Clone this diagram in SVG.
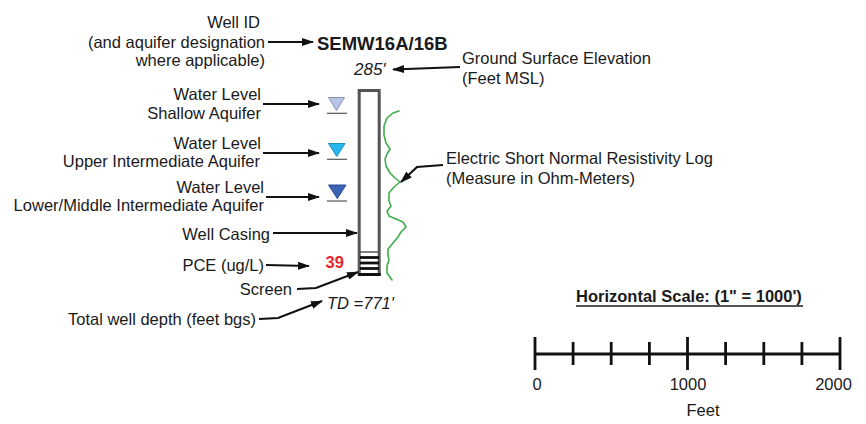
<svg xmlns="http://www.w3.org/2000/svg" width="866" height="424" viewBox="0 0 866 424">
<style>
text{font-family:"Liberation Sans",Arial,sans-serif;font-size:16.5px;fill:#1a1a1a}
.e{text-anchor:end}
.b{font-weight:bold}
.i{font-style:italic}
.c{stroke:#111;stroke-width:2.2;fill:none}
.tri{stroke-width:1}
.ul{stroke:#555;stroke-width:1.2}
.sc{stroke:#111;stroke-width:2.8;fill:none}
</style>
<defs>
<marker id="ah" markerUnits="userSpaceOnUse" markerWidth="12" markerHeight="8" refX="11" refY="4" orient="auto">
<path d="M0,0 L12,4 L0,8 z" fill="#111"/>
</marker>
</defs>
<rect width="866" height="424" fill="#fff"/>

<g id="labels">
<text class="e" x="260" y="28">Well ID</text>
<text class="e" x="265" y="47.5">(and aquifer designation</text>
<text class="e" x="265" y="66">where applicable)</text>
<text class="e" x="261" y="100">Water Level</text>
<text class="e" x="261" y="119">Shallow Aquifer</text>
<text class="e" x="261" y="148.5">Water Level</text>
<text class="e" x="260" y="167">Upper Intermediate Aquifer</text>
<text class="e" x="264" y="192.5">Water Level</text>
<text class="e" x="264" y="211">Lower/Middle Intermediate Aquifer</text>
<text class="e" x="270" y="239.5">Well Casing</text>
<text class="e" x="264" y="271">PCE (ug/L)</text>
<text class="e" x="292" y="294.5">Screen</text>
<text class="e" x="256" y="324.5">Total well depth (feet bgs)</text>
<text x="462" y="64">Ground Surface Elevation</text>
<text x="462" y="83.5">(Feet MSL)</text>
<text x="446" y="164">Electric Short Normal Resistivity Log</text>
<text x="446" y="183.5">(Measure in Ohm-Meters)</text>
</g>

<g id="well">
<text class="b" x="317" y="50" style="font-size:18.5px">SEMW16A/16B</text>
<text class="i" x="354" y="75" style="font-size:17px">285'</text>
<rect x="359.2" y="90.5" width="20" height="184" fill="#fff" stroke="#555" stroke-width="3"/>
<line x1="360" y1="252" x2="379" y2="252" stroke="#555" stroke-width="1.5"/>
<g stroke="#111" stroke-width="2.8">
<line x1="360" y1="257.5" x2="379" y2="257.5"/>
<line x1="360" y1="263" x2="379" y2="263"/>
<line x1="360" y1="268.5" x2="379" y2="268.5"/>
</g>
<line x1="358" y1="274.5" x2="380.7" y2="274.5" stroke="#111" stroke-width="3"/>
<text class="b" x="325.5" y="268" style="font-size:16.5px;fill:#e8242c">39</text>
<text class="i" x="327" y="308.5">TD =771'</text>
</g>

<g id="water-levels">
<path class="tri" d="M328.5,97.5 L344.5,97.5 L336.5,110.5 z" fill="#b9c4e8" stroke="#8a93ad"/>
<line class="ul" x1="327" y1="113.3" x2="347" y2="113.3"/>
<path class="tri" d="M328.5,143.5 L345,143.5 L336.8,156.5 z" fill="#2bb8ef" stroke="#1e8fc0"/>
<line class="ul" x1="327" y1="159.3" x2="347" y2="159.3"/>
<path class="tri" d="M328.5,185 L346,185 L337.3,198.5 z" fill="#3b63b6" stroke="#2a4a90"/>
<line class="ul" x1="327" y1="201" x2="347" y2="201"/>
</g>

<g id="resistivity-log">
<polyline points="399,111 393,113 387,118 384,126 384,135 386,143 390,149 387,154 385,159 386,166 390,173 395,178 400,182 394,187 389,193 389,201 391,206 387,211 389,216 396,219 403,222 406,227 401,232 398,237 393,243 388,249 388,255 389,260 387,266 387,273 392,280" fill="none" stroke="#3fae4a" stroke-width="1.6" stroke-linejoin="round" stroke-linecap="round"/>
</g>

<g id="connectors">
<line class="c" x1="268" y1="42" x2="313" y2="42" marker-end="url(#ah)"/>
<line class="c" x1="263" y1="104" x2="319" y2="104" marker-end="url(#ah)"/>
<line class="c" x1="263" y1="153" x2="319" y2="153" marker-end="url(#ah)"/>
<line class="c" x1="266" y1="197" x2="319" y2="197" marker-end="url(#ah)"/>
<line class="c" x1="273" y1="233" x2="357" y2="233" marker-end="url(#ah)"/>
<line class="c" x1="266" y1="265" x2="309" y2="266" marker-end="url(#ah)"/>
<polyline class="c" points="297,289 316,288 358,272" marker-end="url(#ah)"/>
<polyline class="c" points="259,319 278,318 322,301" marker-end="url(#ah)"/>
<line class="c" x1="460" y1="67" x2="393" y2="69.5" marker-end="url(#ah)"/>
<polyline class="c" points="443,165 417,167 401,182" marker-end="url(#ah)"/>
</g>

<g id="scale">
<text class="b" x="576" y="301.5">Horizontal Scale: (1" = 1000')</text>
<line x1="576" y1="306" x2="803" y2="306" stroke="#1a1a1a" stroke-width="1.3"/>
<line class="sc" x1="535" y1="354" x2="840" y2="354"/>
<g class="sc">
<line x1="535" y1="337" x2="535" y2="370"/>
<line x1="687.5" y1="337" x2="687.5" y2="370"/>
<line x1="840" y1="337" x2="840" y2="370"/>
<line x1="573.1" y1="342" x2="573.1" y2="365"/>
<line x1="611.2" y1="342" x2="611.2" y2="365"/>
<line x1="649.4" y1="342" x2="649.4" y2="365"/>
<line x1="725.6" y1="342" x2="725.6" y2="365"/>
<line x1="763.8" y1="342" x2="763.8" y2="365"/>
<line x1="801.9" y1="342" x2="801.9" y2="365"/>
</g>
<text x="537" y="390" style="text-anchor:middle">0</text>
<text x="688" y="390" style="text-anchor:middle">1000</text>
<text x="833.5" y="390" style="text-anchor:middle">2000</text>
<text x="703" y="416" style="text-anchor:middle">Feet</text>
</g>
</svg>
